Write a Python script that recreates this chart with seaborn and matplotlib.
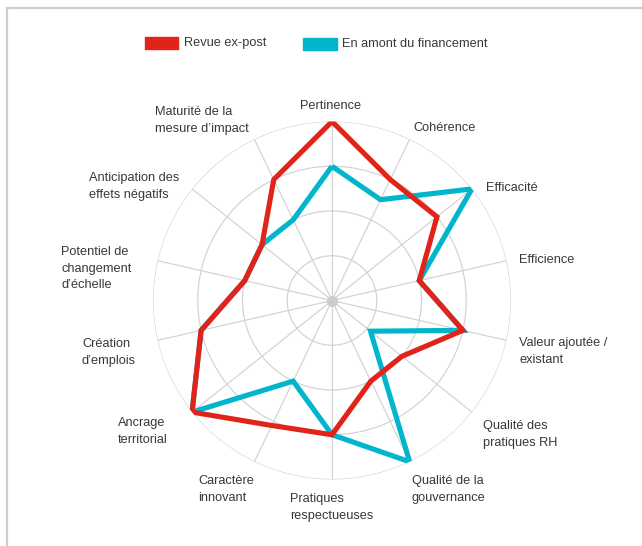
import numpy as np
import pandas as pd
import matplotlib
matplotlib.use("Agg")
import matplotlib.pyplot as plt
from matplotlib.patches import Rectangle
from matplotlib.lines import Line2D
import seaborn as sns

# ---- data ----
categories = [
    "Pertinence", "Cohérence", "Efficacité", "Efficience",
    "Valeur ajoutée /\nexistant", "Qualité des\npratiques RH",
    "Qualité de la\ngouvernance", "Pratiques\nrespectueuses",
    "Caractère\ninnovant", "Ancrage\nterritorial", "Création\nd’emplois",
    "Potentiel de\nchangement\nd’échelle", "Anticipation des\neffets négatifs",
    "Maturité de la\nmesure d’impact",
]
revue_ex_post = [4, 3, 3, 2, 3, 2, 2, 3, 3.1, 4, 3, 2, 2, 3]
en_amont = [3, 2.5, 4, 2, 3, 1.1, 4, 3, 2, 4, 3, 2, 2, 2]
series_names = ["Revue ex-post", "En amont du financement"]
colors = {"Revue ex-post": "#e2231a", "En amont du financement": "#00b5cc"}
r_ticks = [1, 2, 3, 4]

# label positions in pixels (left x, top-line center y), alignment
label_pos = [
    (331, 104, "center"), (413, 126, "left"), (486, 186, "left"), (519, 258, "left"),
    (519, 341, "left"), (483, 424, "left"), (412, 479, "left"), (290, 497, "left"),
    (198, 479, "left"), (118, 421, "left"), (82, 342, "left"), (61, 250, "left"),
    (89, 176, "left"), (155, 110, "left"),
]

W, H = 642, 546
n = len(categories)
angles = np.linspace(0, 2 * np.pi, n, endpoint=False)

rows = []
for name, vals in zip(series_names, [revue_ex_post, en_amont]):
    for a, v in zip(list(angles) + [2 * np.pi], list(vals) + [vals[0]]):
        rows.append({"theta": a, "r": v, "serie": name})
df = pd.DataFrame(rows)

sns.set_theme(style="white")
plt.rcParams["font.family"] = ["Liberation Sans", "DejaVu Sans"]

fig = plt.figure(figsize=(W / 100, H / 100), dpi=100)
fig.patch.set_facecolor("white")

cx, cy, R = 332, 300.5, 179
ax = fig.add_axes([(cx - R) / W, (H - cy - R) / H, 2 * R / W, 2 * R / H], projection="polar")
ax.set_theta_zero_location("N")
ax.set_theta_direction(-1)
ax.set_ylim(0, 4)
ax.set_yticks(r_ticks)
ax.set_yticklabels([])
ax.set_xticks(angles)
ax.set_xticklabels([])
ax.grid(True, color="#d4d4d4", lw=0.9)
ax.spines["polar"].set_visible(False)
ax.set_facecolor("none")

sns.lineplot(data=df, x="theta", y="r", hue="serie",
             hue_order=["En amont du financement", "Revue ex-post"],
             palette=colors, sort=False, estimator=None, lw=3.7,
             legend=False, ax=ax)
for ln in ax.get_lines():
    ln.set_solid_joinstyle("miter")
    ln.set_solid_capstyle("butt")
ax.plot([0], [0], "o", color="#cccccc", ms=7, zorder=5)
ax.set_xlabel("")
ax.set_ylabel("")

# category labels
for lab, (x, y, ha) in zip(categories, label_pos):
    fig.text(x / W, 1 - (y - 4) / H, lab, ha=ha, va="top", fontsize=9.2,
             color="#383838", linespacing=1.52, multialignment=ha)

# legend
def fig_rect(x0, y0, x1, y1, color):
    fig.patches.append(Rectangle((x0 / W, 1 - y1 / H), (x1 - x0) / W, (y1 - y0) / H,
                                 transform=fig.transFigure, color=color, figure=fig))

fig_rect(145, 37, 178, 49, colors["Revue ex-post"])
fig.text(184 / W, 1 - 43 / H, "Revue ex-post", ha="left", va="center",
         fontsize=9.2, color="#383838")
fig_rect(303, 38, 337, 50, colors["En amont du financement"])
fig.text(342 / W, 1 - 44 / H, "En amont du financement", ha="left", va="center",
         fontsize=9.2, color="#383838")

# frame lines
fig.lines.append(Line2D([7 / W, 7 / W], [0, 1 - 8 / H], transform=fig.transFigure,
                        color="#cccccc", lw=1.6))
fig.lines.append(Line2D([7 / W, 1], [1 - 8 / H, 1 - 8 / H], transform=fig.transFigure,
                        color="#cccccc", lw=1.6))

fig.savefig("out.png", dpi=100)
